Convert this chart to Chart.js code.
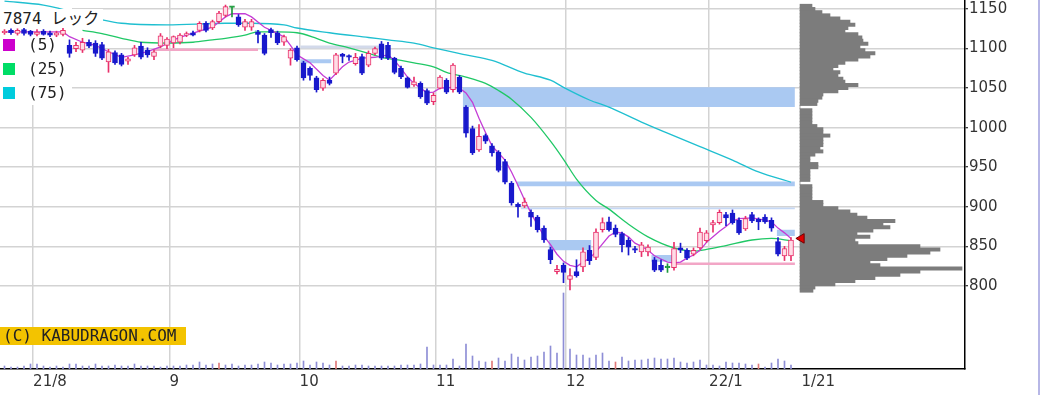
<!DOCTYPE html>
<html lang="ja">
<head>
<meta charset="utf-8">
<title>7874 レック</title>
<script src="https://cdn.jsdelivr.net/npm/chart.js@4.4.1/dist/chart.umd.min.js"></script>
<style>
  html, body { margin: 0; padding: 0; background: #fff; }
  #wrap { position: relative; width: 1042px; height: 395px; overflow: hidden; }
  #chart { position: absolute; left: 0; top: 0; }
  #title {
    position: absolute; left: 0; top: 9px; width: 103px; height: 19px; background: #fff;
    font: 16px "DejaVu Sans Mono", "Noto Sans CJK JP", monospace; line-height: 19px;
    color: #222; padding-left: 3px; box-sizing: border-box; white-space: nowrap;
  }
  .maRow {
    position: absolute; left: 3px; height: 16px; width: 60px;
    font: 16px "DejaVu Sans Mono", monospace; line-height: 16px; color: #222; white-space: nowrap;
  }
  .maRow i { position: absolute; left: 0; top: 2px; width: 12px; height: 12px; }
  .maRow span { position: absolute; left: 25px; top: 0; }
  #copy {
    position: absolute; left: 0; top: 327px; width: 186px; height: 18px; background: #f3c300;
    font: 16px "DejaVu Sans Mono", monospace; line-height: 18px; color: #222;
    padding-left: 3px; box-sizing: border-box; white-space: nowrap;
  }
  #frame { position: absolute; left: 1038px; top: 0; width: 2px; height: 395px; background: #b7b7e6; }
</style>
</head>
<body>
<div id="wrap">
  <canvas id="chart" width="1042" height="395"></canvas>
  <div id="title">7874 レック</div>
  <div id="legend"></div>
  <div id="copy">(C) KABUDRAGON.COM</div>
  <div id="frame"></div>
</div>
<script>
// 7874 レック daily, 2021/7/26 - 2022/1/21 (day index 0 = 7/26)

// x axis: first trading day of each month, then the last day label
const monthStartDays = [5, 26, 46, 67, 87, 109];
const lastDay = 121;
const xTickLabels = ['21/8', '9', '10', '11', '12', '22/1', '1/21'];
const priceTicks = [800, 850, 900, 950, 1000, 1050, 1100, 1150];

// candles
const opens = [
  1120, 1123, 1119, 1124, 1122, 1118, 1122, 1120, 1117, 1118,
  1104, 1100, 1098, 1108, 1107, 1105, 1083, 1095, 1092, 1084,
  1092, 1103, 1098, 1090, 1103, 1104, 1107, 1108, 1117, 1120,
  1123, 1132, 1126, 1134, 1142, 1152, 1140, 1127, 1127, 1121,
  1117, 1124, 1120, 1108, 1088, 1101, 1082, 1075, 1063, 1050,
  1060, 1069, 1093, 1091, 1081, 1090, 1079, 1094, 1106, 1104,
  1088, 1075, 1063, 1054, 1056, 1047, 1033, 1050, 1060, 1048,
  1064, 1026, 999, 972, 990, 977, 969, 957, 930, 903,
  901, 893, 887, 873, 846, 818, 826, 808, 818, 824,
  845, 836, 871, 881, 873, 866, 858, 847, 843, 843,
  833, 826, 823, 823, 848, 845, 840, 848, 857, 877,
  880, 890, 892, 883, 872, 890, 884, 887, 883, 856,
  838, 838
];
const highs = [
  1124, 1125, 1125, 1126, 1123, 1124, 1124, 1122, 1122, 1126,
  1111, 1108, 1113, 1111, 1110, 1108, 1099, 1097, 1094, 1089,
  1104, 1108, 1101, 1098, 1119, 1114, 1116, 1119, 1121, 1122,
  1134, 1134, 1136, 1147, 1155, 1153, 1143, 1137, 1137, 1123,
  1119, 1126, 1122, 1117, 1100, 1103, 1084, 1077, 1065, 1062,
  1064, 1094, 1094, 1092, 1094, 1093, 1097, 1102, 1109, 1108,
  1089, 1078, 1064, 1064, 1058, 1049, 1044, 1066, 1062, 1081,
  1066, 1028, 1002, 1004, 992, 980, 971, 960, 932, 905,
  911, 896, 889, 876, 849, 826, 829, 822, 833, 848,
  851, 872, 886, 887, 877, 868, 861, 850, 855, 852,
  836, 833, 828, 855, 854, 847, 848, 873, 870, 883,
  896, 893, 896, 886, 888, 893, 886, 890, 886, 861,
  850, 861
];
const lows = [
  1118, 1118, 1117, 1117, 1116, 1116, 1117, 1115, 1115, 1116,
  1089, 1096, 1095, 1101, 1090, 1086, 1070, 1080, 1078, 1080,
  1090, 1087, 1089, 1086, 1101, 1100, 1101, 1106, 1115, 1116,
  1121, 1121, 1124, 1132, 1140, 1140, 1128, 1123, 1123, 1107,
  1092, 1114, 1105, 1104, 1079, 1084, 1060, 1060, 1045, 1047,
  1054, 1067, 1082, 1085, 1079, 1067, 1077, 1092, 1086, 1086,
  1068, 1062, 1050, 1052, 1037, 1029, 1029, 1049, 1043, 1045,
  1043, 988, 966, 970, 980, 964, 944, 929, 902, 887,
  899, 875, 868, 855, 828, 815, 804, 795, 811, 818,
  827, 833, 868, 869, 862, 843, 839, 842, 837, 838,
  818, 818, 817, 820, 842, 833, 838, 846, 855, 868,
  878, 876, 878, 865, 870, 880, 871, 879, 869, 838,
  832, 832
];
const closes = [
  1122, 1120, 1123, 1119, 1118, 1121, 1118, 1117, 1120, 1123,
  1094, 1104, 1108, 1103, 1094, 1088, 1096, 1082, 1080, 1087,
  1101, 1089, 1092, 1096, 1116, 1112, 1115, 1117, 1119, 1117,
  1132, 1123, 1134, 1145, 1153, 1152, 1130, 1134, 1134, 1118,
  1094, 1120, 1107, 1115, 1098, 1086, 1063, 1066, 1048, 1060,
  1056, 1092, 1090, 1089, 1089, 1069, 1094, 1100, 1088, 1088,
  1070, 1064, 1051, 1058, 1039, 1031, 1041, 1064, 1045, 1079,
  1045, 993, 968, 989, 983, 968, 946, 931, 905, 900,
  906, 887, 871, 858, 833, 821, 817, 813, 813, 843,
  832, 868, 880, 871, 865, 852, 849, 845, 852, 849,
  820, 820, 823, 847, 845, 835, 845, 868, 867, 880,
  893, 886, 880, 867, 885, 882, 881, 881, 873, 840,
  847, 858
];

// volume (thousand shares)
const volumes = [
  15, 10, 10, 15, 25, 25, 15, 10, 15, 10,
  25, 25, 15, 15, 25, 15, 15, 20, 15, 15,
  25, 15, 15, 15, 10, 15, 15, 15, 20, 20,
  35, 20, 25, 30, 20, 25, 15, 20, 20, 25,
  35, 30, 20, 25, 25, 30, 40, 20, 35, 30,
  20, 40, 15, 15, 20, 20, 15, 15, 15, 15,
  15, 20, 20, 20, 25, 110, 20, 20, 20, 50,
  15, 125, 65, 40, 35, 40, 55, 40, 75, 60,
  45, 60, 65, 85, 115, 80, 380, 100, 70, 70,
  55, 70, 80, 40, 35, 60, 40, 45, 45, 50,
  55, 50, 50, 55, 35, 30, 35, 45, 20, 20,
  15, 35, 30, 30, 25, 20, 25, 10, 30, 50,
  40, 20
];
const volRedDays = [33, 51, 75, 94, 116];

// moving averages
const ma5Days = [0, 9, 10, 12, 14, 16, 18, 20, 22, 24,
  26, 28, 30, 32, 34, 35, 37, 38, 40, 41,
  43, 44, 45, 47, 49, 50, 52, 53, 54, 55,
  57, 59, 60, 61, 62, 63, 64, 65, 66, 67,
  69, 70, 71, 72, 73, 74, 75, 76, 77, 78,
  79, 80, 81, 82, 83, 84, 85, 86, 87, 88,
  89, 90, 91, 92, 93, 94, 95, 96, 97, 98,
  99, 100, 101, 102, 103, 104, 105, 106, 107, 108,
  109, 110, 111, 112, 113, 115, 117, 118, 119, 120, 121];
const ma5Vals = [1121, 1121, 1115, 1108, 1104, 1096, 1089, 1092, 1096, 1102,
  1111, 1117, 1122, 1127, 1140, 1144, 1144, 1140, 1127, 1123,
  1115, 1104, 1092, 1082, 1066, 1060, 1077, 1083, 1085, 1088,
  1089, 1092, 1085, 1075, 1064, 1056, 1050, 1044, 1045, 1050,
  1051, 1050, 1044, 1032, 1012, 994, 977, 968, 959, 944,
  927, 909, 892, 877, 863, 852, 840, 831, 826, 824,
  830, 835, 843, 853, 863, 868, 867, 862, 854, 850,
  845, 838, 834, 830, 829, 830, 835, 839, 845, 855,
  862, 869, 875, 882, 885, 886, 883, 881, 873, 867, 860];
const ma25Days = [12, 15, 18, 21, 25, 29, 32, 34, 37, 39,
  42, 45, 48, 50, 53, 56, 58, 61, 63, 66,
  68, 71, 74, 76, 78, 81, 84, 86, 88, 91,
  93, 96, 99, 103, 106, 108, 111, 115, 118, 121];
const ma25Vals = [1123, 1119, 1113, 1108, 1107, 1108, 1111, 1113, 1117, 1121,
  1121, 1120, 1113, 1107, 1101, 1094, 1089, 1085, 1082, 1077,
  1070, 1064, 1056, 1047, 1036, 1013, 983, 960, 935, 908,
  897, 878, 862, 848, 844, 846, 851, 858, 860, 857];
const ma75Days = [0, 6, 18, 25, 34, 38, 43, 45, 50, 56,
  59, 63, 66, 71, 75, 80, 84, 86, 90, 93,
  98, 102, 107, 112, 116, 121];
const ma75Vals = [1160, 1155, 1132, 1130, 1132, 1132, 1130, 1126, 1120, 1114,
  1111, 1107, 1101, 1092, 1085, 1069, 1060, 1051, 1035, 1026,
  1007, 993, 976, 959, 944, 931];
const maPeriods = [5, 25, 75];

// price-by-volume profile (4-yen bins)
const profPrices = [1154, 1150, 1146, 1142, 1138, 1134, 1130, 1126, 1122, 1118,
  1114, 1110, 1106, 1102, 1098, 1094, 1090, 1086, 1082, 1078,
  1074, 1070, 1066, 1062, 1058, 1054, 1050, 1046, 1042, 1038,
  1034, 1030, 1026, 1022, 1018, 1014, 1010, 1006, 1002, 998,
  994, 990, 986, 982, 978, 974, 970, 966, 962, 958,
  954, 950, 946, 942, 938, 934, 930, 926, 922, 918,
  914, 910, 906, 902, 898, 894, 890, 886, 882, 878,
  874, 870, 866, 862, 858, 854, 850, 846, 842, 838,
  834, 830, 826, 822, 818, 814, 810, 806, 802, 798, 794];
const profVols = [12, 15, 22, 30, 40, 50, 55, 48, 45, 58,
  62, 63, 68, 60, 65, 75, 70, 58, 45, 38,
  33, 40, 38, 43, 45, 58, 48, 38, 23, 22,
  18, 17, 0, 12, 12, 12, 12, 12, 17, 23,
  23, 30, 23, 23, 23, 20, 23, 15, 10, 10,
  18, 18, 10, 10, 10, 10, 0, 12, 12, 12,
  12, 12, 23, 23, 38, 50, 57, 67, 95, 83,
  90, 73, 57, 70, 55, 58, 120, 140, 130, 107,
  87, 70, 80, 162, 120, 100, 75, 55, 35, 15, 13];

// shaded price zones and pink reference lines
const bandFrom = [70.5, 78.8, 79.4, 83.7, 99.5, 118.8, 45.5, 45.5, 38.5];
const bandTo = [121.6, 121.6, 121.6, 90.3, 102.8, 121.6, 50.3, 59, 39.3];
const bandHi = [1051, 932, 899, 858, 839, 871, 1086.5, 1104, 1123];
const bandLo = [1026, 926, 897, 845, 830.5, 863, 1081.5, 1100, 1117];
const pinkFrom = [103.3, 23];
const pinkTo = [121.6, 39];
const pinkAt = [828, 1098.5];

const markerDay = 122.6;
const markerPrice = 860;

// ---- styles ----
const UP = '#e8306a', UP_FILL = '#ffdce6', DOWN = '#1818cc', EVEN = '#1d9a3c';
const MA_COLORS = ['#c43cd6', '#20c866', '#1fbfd0'];
const MA_SWATCH = ['#cc00cc', '#00dd66', '#00ccdd'];
const BAND_FILL = i => i === 2 ? '#c6d8f4' : (i === 7 ? '#d2d9ea' : '#aac9f2');
const GRID = '#d3d3d3';
const FONT = { family: 'DejaVu Sans', size: 15 };

const candleColor = i => closes[i] > opens[i] ? UP : (closes[i] < opens[i] ? DOWN : EVEN);
const days = closes.map((_, i) => i);
const pairs = (xs, ys) => xs.map((x, k) => ({ x: x, y: ys[k] }));

// legend rows
const legendEl = document.getElementById('legend');
maPeriods.forEach((p, k) => {
  const row = document.createElement('div');
  row.className = 'maRow';
  row.style.top = (37 + k * 24) + 'px';
  row.innerHTML = `<i style="background:${MA_SWATCH[k]}"></i><span>(${p})</span>`;
  legendEl.appendChild(row);
});

const datasets = [];

datasets.push({
  type: 'scatter', data: [{ x: markerDay, y: markerPrice }],
  pointStyle: 'triangle', pointRotation: -90, pointRadius: 5.5,
  pointBackgroundColor: '#e00000', pointBorderColor: '#700000', pointBorderWidth: 1,
  order: 0
});

// candle bodies
datasets.push({
  type: 'bar', grouped: false, barThickness: 5, minBarLength: 1.5,
  borderSkipped: false, borderWidth: 1,
  data: days.map(i => ({ x: i, y: [opens[i], closes[i]] })),
  backgroundColor: c => closes[c.dataIndex] > opens[c.dataIndex] ? UP_FILL : candleColor(c.dataIndex),
  borderColor: c => candleColor(c.dataIndex),
  order: 1
});

// wicks
datasets.push({
  type: 'bar', grouped: false, barThickness: 1, borderWidth: 0,
  data: days.map(i => ({ x: i, y: [lows[i], highs[i]] })),
  backgroundColor: c => candleColor(c.dataIndex),
  order: 2
});

[[ma5Days, ma5Vals], [ma25Days, ma25Vals], [ma75Days, ma75Vals]].forEach(([d, v], k) => {
  datasets.push({
    type: 'line', data: pairs(d, v),
    borderColor: MA_COLORS[k], borderWidth: 1.3, pointRadius: 0, fill: false,
    cubicInterpolationMode: k === 0 ? 'default' : 'monotone', tension: 0,
    order: 3 + k
  });
});

bandFrom.forEach((from, k) => {
  datasets.push({
    type: 'line',
    data: [{ x: from, y: bandHi[k] }, { x: bandTo[k], y: bandHi[k] }],
    fill: { value: bandLo[k] }, backgroundColor: BAND_FILL(k),
    borderColor: 'rgba(0,0,0,0)', borderWidth: 0, pointRadius: 0,
    order: 7
  });
});

pinkFrom.forEach((from, k) => {
  datasets.push({
    type: 'line',
    data: [{ x: from, y: pinkAt[k] }, { x: pinkTo[k], y: pinkAt[k] }],
    borderColor: '#f2a6c6', borderWidth: 2.5, pointRadius: 0, fill: false,
    order: 6
  });
});

// volume profile, horizontal bars
datasets.push({
  type: 'bar', indexAxis: 'y', xAxisID: 'xp', yAxisID: 'y',
  grouped: false, barThickness: 3.3, borderWidth: 0,
  data: profPrices.map((p, k) => ({ x: profVols[k], y: p })),
  backgroundColor: '#7c7c7c',
  order: 8
});

// volume
datasets.push({
  type: 'bar', yAxisID: 'yv', grouped: false, barThickness: 1, borderWidth: 0,
  data: days.map(i => ({ x: i, y: volumes[i] })),
  backgroundColor: c => volRedDays.includes(c.dataIndex) ? '#e07a7a' : '#8e8ed6',
  order: 9
});

// white box behind the legend, over the grid
const legendBackdrop = {
  id: 'legendBackdrop',
  beforeDatasetsDraw(chart) {
    const ctx = chart.ctx;
    ctx.save();
    ctx.fillStyle = '#fff';
    ctx.fillRect(0, 0, 72, 105);
    ctx.restore();
  }
};

new Chart(document.getElementById('chart'), {
  type: 'bar',
  data: { datasets },
  plugins: [legendBackdrop],
  options: {
    responsive: false,
    animation: false,
    events: [],
    layout: { padding: 0, autoPadding: false },
    plugins: { legend: { display: false }, tooltip: { enabled: false } },
    scales: {
      x: {
        type: 'linear', position: 'bottom', offset: false, bounds: 'data',
        min: -0.692, max: 147.77,
        afterBuildTicks: s => {
          s.ticks = monthStartDays.map(d => ({ value: d - 0.6 })).concat({ value: lastDay + 1.6 });
        },
        afterFit: s => { s.height = 26; s.paddingLeft = 0; s.paddingRight = 0; },
        grid: {
          offset: false, drawTicks: false, lineWidth: 1.5,
          color: c => c.index === xTickLabels.length - 1 ? 'rgba(0,0,0,0)' : GRID
        },
        border: { color: '#000', width: 1.5 },
        ticks: {
          align: 'start', padding: 4, maxRotation: 0, autoSkip: false,
          font: FONT, color: '#333',
          callback: (v, i) => xTickLabels[i]
        }
      },
      y: {
        type: 'linear', position: 'right', bounds: 'data', beginAtZero: false, offset: false,
        min: 694.9, max: 1161.4,
        afterBuildTicks: s => { s.ticks = priceTicks.map(v => ({ value: v })); },
        afterFit: s => { s.width = 77; s.paddingTop = 0; s.paddingBottom = 0; },
        grid: { offset: false, color: GRID, lineWidth: 1.5, tickLength: 3, tickColor: '#000', tickWidth: 1 },
        border: { color: '#000', width: 1.5 },
        ticks: { padding: 1, autoSkip: false, font: FONT, color: '#333', callback: v => String(v) }
      },
      yv: { type: 'linear', axis: 'y', display: false, offset: false, beginAtZero: true, min: 0, max: 1845 },
      xp: { type: 'linear', axis: 'x', display: false, offset: false, beginAtZero: false, min: -800, max: 165 }
    }
  }
});
</script>
</body>
</html>
